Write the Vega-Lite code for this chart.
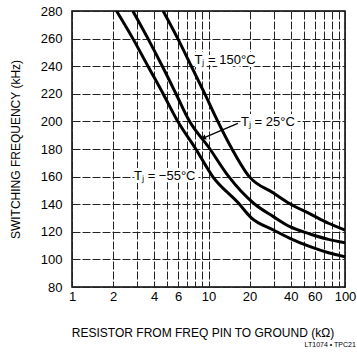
{
  "$schema": "https://vega.github.io/schema/vega-lite/v6.json",
  "width": 273,
  "height": 276,
  "autosize": {"type": "none"},
  "padding": {"left": 72, "top": 11, "right": 12, "bottom": 66},
  "background": "white",
  "config": {
    "view": {"stroke": "black", "strokeWidth": 1.5},
    "font": "Liberation Sans"
  },
  "title": {
    "text": "LT1074 • TPC21",
    "orient": "bottom",
    "anchor": "end",
    "fontSize": 7,
    "fontWeight": "normal",
    "color": "black",
    "offset": 2
  },
  "datasets": {
    "curves": [
      {"R": 2.12, "f": 280, "Tj": "-55"},
      {"R": 2.80, "f": 259.8, "Tj": "-55"},
      {"R": 3.62, "f": 239.6, "Tj": "-55"},
      {"R": 4.67, "f": 219.7, "Tj": "-55"},
      {"R": 5.89, "f": 200.8, "Tj": "-55"},
      {"R": 8.03, "f": 180.4, "Tj": "-55"},
      {"R": 10.7, "f": 160.2, "Tj": "-55"},
      {"R": 16.5, "f": 141.0, "Tj": "-55"},
      {"R": 20.6, "f": 130.1, "Tj": "-55"},
      {"R": 29.9, "f": 121.3, "Tj": "-55"},
      {"R": 39.5, "f": 115.3, "Tj": "-55"},
      {"R": 55.5, "f": 109.2, "Tj": "-55"},
      {"R": 75.7, "f": 104.8, "Tj": "-55"},
      {"R": 100, "f": 101.9, "Tj": "-55"},
      {"R": 2.79, "f": 280, "Tj": "25"},
      {"R": 3.61, "f": 259.8, "Tj": "25"},
      {"R": 4.61, "f": 239.6, "Tj": "25"},
      {"R": 5.80, "f": 219.7, "Tj": "25"},
      {"R": 7.19, "f": 200.8, "Tj": "25"},
      {"R": 10.1, "f": 180.9, "Tj": "25"},
      {"R": 13.9, "f": 160.7, "Tj": "25"},
      {"R": 21.4, "f": 140.7, "Tj": "25"},
      {"R": 29.9, "f": 131.0, "Tj": "25"},
      {"R": 39.5, "f": 123.7, "Tj": "25"},
      {"R": 55.5, "f": 118.4, "Tj": "25"},
      {"R": 75.7, "f": 114.5, "Tj": "25"},
      {"R": 100, "f": 112.1, "Tj": "25"},
      {"R": 4.65, "f": 280, "Tj": "150"},
      {"R": 5.97, "f": 259.8, "Tj": "150"},
      {"R": 7.52, "f": 239.6, "Tj": "150"},
      {"R": 9.42, "f": 219.7, "Tj": "150"},
      {"R": 11.6, "f": 200.8, "Tj": "150"},
      {"R": 14.7, "f": 180.9, "Tj": "150"},
      {"R": 19.9, "f": 160.0, "Tj": "150"},
      {"R": 29.9, "f": 148.1, "Tj": "150"},
      {"R": 39.5, "f": 140.3, "Tj": "150"},
      {"R": 55.5, "f": 133.0, "Tj": "150"},
      {"R": 75.7, "f": 126.2, "Tj": "150"},
      {"R": 100, "f": 121.3, "Tj": "150"}
    ],
    "labels": [
      {"R": 7.9, "f": 244.5, "text": "Tⱼ = 150°C"},
      {"R": 17.3, "f": 199.3, "text": "Tⱼ = 25°C"},
      {"R": 2.85, "f": 160.7, "text": "Tⱼ = −55°C"}
    ],
    "arrow": [
      {"R": 16.4, "f": 198.6, "R2": 9.5, "f2": 188.6}
    ],
    "tip": [
      {"R": 9.3, "f": 188.3}
    ]
  },
  "encoding": {
    "x": {
      "field": "R",
      "type": "quantitative",
      "scale": {"type": "log", "domain": [1, 100]},
      "axis": {
        "values": [1, 2, 3, 4, 5, 6, 7, 8, 9, 10, 20, 30, 40, 50, 60, 70, 80, 90, 100],
        "labelExpr": "indexof([1,2,4,6,10,20,40,60,100], datum.value) >= 0 ? format(datum.value, 'd') : ''",
        "domain": false,
        "ticks": false,
        "grid": true,
        "gridColor": "#222222",
        "gridDash": [8, 2],
        "gridWidth": 1,
        "labelFontSize": 13,
        "labelColor": "black",
        "labelPadding": 3,
        "labelFlush": false,
        "labelOverlap": false,
        "title": "RESISTOR FROM FREQ PIN TO GROUND (kΩ)",
        "titleFontSize": 12,
        "titleFontWeight": "normal",
        "titleColor": "black",
        "titleX": 130.5,
        "titleY": 45.5,
        "titleBaseline": "middle"
      }
    },
    "y": {
      "field": "f",
      "type": "quantitative",
      "scale": {"domain": [80, 280]},
      "axis": {
        "values": [80, 100, 120, 140, 160, 180, 200, 220, 240, 260, 280],
        "tickCount": 11,
        "domain": false,
        "ticks": false,
        "grid": true,
        "gridColor": "#222222",
        "gridDash": [8, 2],
        "gridWidth": 1,
        "labelFontSize": 13,
        "labelColor": "black",
        "labelPadding": 10,
        "labelFlush": false,
        "labelOverlap": false,
        "title": "SWITCHING FREQUENCY (kHz)",
        "titleFontSize": 12,
        "titleFontWeight": "normal",
        "titleColor": "black",
        "titleX": -57,
        "titleBaseline": "middle"
      }
    }
  },
  "layer": [
    {
      "data": {"name": "labels"},
      "mark": {"type": "text", "align": "left", "baseline": "middle", "fontSize": 13, "color": "white", "stroke": "white", "strokeWidth": 6},
      "encoding": {
        "text": {"field": "text"}
      }
    },
    {
      "data": {"name": "curves"},
      "mark": {"type": "line", "interpolate": "monotone", "strokeWidth": 3, "color": "black", "clip": true},
      "encoding": {
        "detail": {"field": "Tj", "type": "nominal"}
      }
    },
    {
      "data": {"name": "labels"},
      "mark": {"type": "text", "align": "left", "baseline": "middle", "fontSize": 13, "color": "black"},
      "encoding": {
        "text": {"field": "text"}
      }
    },
    {
      "data": {"name": "arrow"},
      "mark": {"type": "rule", "color": "black", "strokeWidth": 1.2},
      "encoding": {
        "x2": {"field": "R2"},
        "y2": {"field": "f2"}
      }
    },
    {
      "data": {"name": "tip"},
      "mark": {"type": "point", "shape": "triangle", "filled": true, "color": "black", "size": 30, "angle": 248, "opacity": 1},
      "encoding": {}
    }
  ]
}
